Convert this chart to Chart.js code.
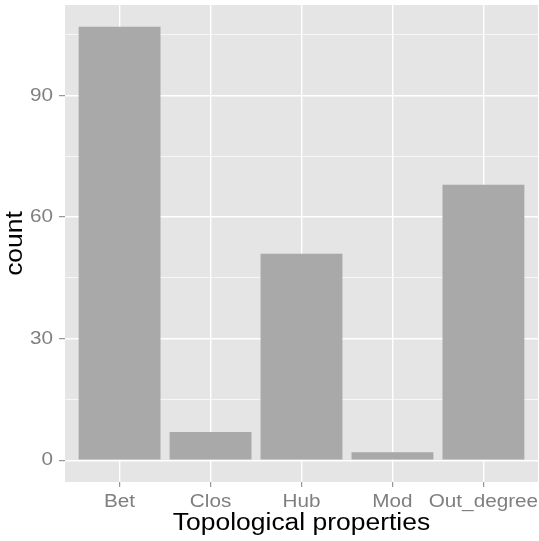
<!DOCTYPE html>
<html>
<head>
<meta charset="utf-8">
<script src="https://cdn.jsdelivr.net/npm/chart.js@4/dist/chart.umd.min.js"></script>
<style>
  html, body { margin: 0; padding: 0; background: #ffffff; }
  #wrap { width: 539px; height: 541px; }
</style>
</head>
<body>
<div id="wrap"><canvas id="c" width="539" height="541"></canvas></div>
<script>
const categories = ['Bet', 'Clos', 'Hub', 'Mod', 'Out_degree'];
const counts = [107, 7, 51, 2, 68];
const yMajorTicks = [0, 30, 60, 90];
const yMinorTicks = [15, 45, 75, 105];
const xTitle = 'Topological properties';
const yTitle = 'count';

const maxCount = Math.max(...counts);
const yPad = maxCount * 0.05;
const FONT = '"Liberation Sans", Arial, Helvetica, sans-serif';
const GREY_TEXT = '#7f7f7f';
const TEXT_STRETCH = 1.15; // reference glyphs are wider than Liberation Sans

const canvas = document.getElementById('c');
const ctx2d = canvas.getContext('2d');
(function stretchText(ctx, s) {
  const origFill = ctx.fillText.bind(ctx);
  const origMeasure = ctx.measureText.bind(ctx);
  ctx.fillText = function (t, x, y, mw) {
    this.save();
    this.translate(x, y);
    this.scale(s, 1);
    if (mw === undefined || mw === null) origFill(t, 0, 0);
    else origFill(t, 0, 0, mw / s);
    this.restore();
  };
  ctx.measureText = function (t) {
    const m = origMeasure(t);
    return {
      width: m.width * s,
      actualBoundingBoxLeft: m.actualBoundingBoxLeft * s,
      actualBoundingBoxRight: m.actualBoundingBoxRight * s,
      actualBoundingBoxAscent: m.actualBoundingBoxAscent,
      actualBoundingBoxDescent: m.actualBoundingBoxDescent,
      fontBoundingBoxAscent: m.fontBoundingBoxAscent,
      fontBoundingBoxDescent: m.fontBoundingBoxDescent
    };
  };
})(ctx2d, TEXT_STRETCH);

const panelBg = {
  id: 'panelBg',
  beforeDraw(chart) {
    const a = chart.chartArea;
    const ctx = chart.ctx;
    ctx.save();
    ctx.fillStyle = '#e5e5e5';
    ctx.fillRect(a.left, a.top, a.right - a.left, a.bottom - a.top);
    ctx.restore();
  }
};

const isMajorY = v => yMajorTicks.includes(v);

new Chart(canvas, {
  type: 'bar',
  data: {
    datasets: [{
      data: counts.map((v, i) => ({ x: i + 1, y: v })),
      backgroundColor: '#a9a9a9',
      borderWidth: 0,
      barPercentage: 0.9,
      categoryPercentage: 1.0
    }]
  },
  options: {
    responsive: false,
    animation: false,
    devicePixelRatio: 1,
    layout: { padding: { top: 5, right: 1, left: 0, bottom: 0 } },
    plugins: { legend: { display: false }, tooltip: { enabled: false } },
    scales: {
      x: {
        type: 'linear',
        offset: false,
        min: 0.4,
        max: categories.length + 0.6,
        afterBuildTicks: s => { s.ticks = categories.map((c, i) => ({ value: i + 1 })); },
        afterFit: s => { s.height = 59; s.paddingLeft = 0; s.paddingRight = 0; },
        border: { display: false },
        grid: {
          offset: false,
          color: '#ffffff',
          lineWidth: 1.4,
          tickColor: GREY_TEXT,
          tickLength: 5,
          tickWidth: 1
        },
        ticks: {
          autoSkip: false,
          maxRotation: 0,
          padding: 4,
          color: GREY_TEXT,
          font: { family: FONT, size: 18 },
          callback: v => categories[Math.round(v) - 1] || ''
        },
        title: {
          display: true,
          text: xTitle,
          color: '#000000',
          font: { family: FONT, size: 23 },
          padding: { top: 0, bottom: 3.5 }
        }
      },
      y: {
        type: 'linear',
        min: -yPad,
        max: maxCount + yPad,
        afterBuildTicks: s => {
          s.ticks = [...yMajorTicks, ...yMinorTicks].sort((a, b) => a - b).map(v => ({ value: v }));
        },
        afterFit: s => { s.width = 65; s.paddingTop = 0; s.paddingBottom = 0; },
        border: { display: false },
        grid: {
          color: '#ffffff',
          lineWidth: c => (c.tick && isMajorY(c.tick.value)) ? 1.4 : 0.7,
          tickColor: c => (c.tick && isMajorY(c.tick.value)) ? GREY_TEXT : 'rgba(0,0,0,0)',
          tickLength: 6,
          tickWidth: 1
        },
        ticks: {
          padding: 6,
          color: GREY_TEXT,
          font: { family: FONT, size: 18 },
          callback: v => isMajorY(v) ? String(v) : ''
        },
        title: {
          display: true,
          text: yTitle,
          color: '#000000',
          font: { family: FONT, size: 23 },
          padding: { top: 1.5, bottom: 0 }
        }
      }
    }
  },
  plugins: [panelBg]
});
</script>
</body>
</html>
